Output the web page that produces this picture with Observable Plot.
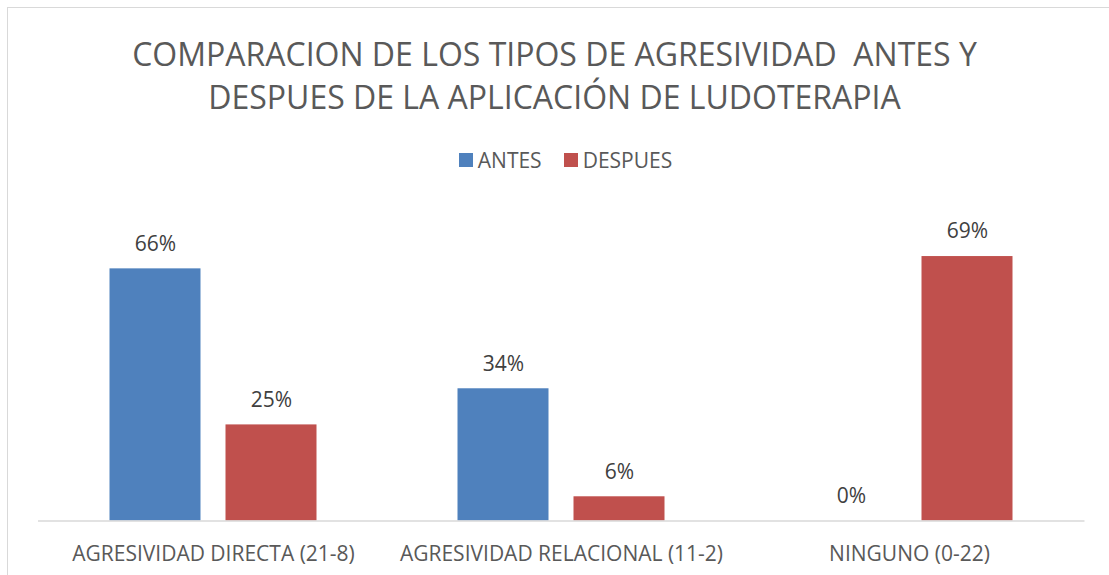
<!DOCTYPE html>
<html><head><meta charset="utf-8">
<script src="https://cdn.jsdelivr.net/npm/d3@7"></script>
<script src="https://cdn.jsdelivr.net/npm/@observablehq/plot@0.6"></script>
<style>
html,body{margin:0;padding:0;background:#fff;}
body{overflow:hidden;width:1109px;height:575px;position:relative;font-family:"Open Sans",sans-serif;}
#frame{position:absolute;left:7px;top:7px;width:1200px;height:700px;border:1px solid #d9d9d9;}
#title{position:absolute;left:0;top:32px;width:1109px;text-align:center;color:#595959;font-size:32px;line-height:43px;}
#legend{position:absolute;left:11px;top:148px;width:1109px;display:flex;justify-content:center;align-items:center;color:#595959;font-size:21px;line-height:24px;}
#legend .sw{display:inline-block;width:14px;height:14px;margin-right:5px;}
#legend .item{display:flex;align-items:center;margin:0 11px;}
#chart{position:absolute;left:0;top:190px;}
</style>
</head><body>
<div id="frame"></div>
<div id="title">COMPARACION DE LOS TIPOS DE AGRESIVIDAD&nbsp; ANTES Y<br>DESPUES DE LA APLICACIÓN DE LUDOTERAPIA</div>
<div id="legend"></div>
<div id="chart"></div>
<script>
const categories = ["AGRESIVIDAD DIRECTA (21-8)", "AGRESIVIDAD RELACIONAL (11-2)", "NINGUNO (0-22)"];
const series = ["ANTES", "DESPUES"];
const antes = [65.6, 34.4, 0];
const despues = [25, 6.3, 68.8];
const colors = ["#4F81BD", "#C0504D"];

const rowsAntes = categories.map((c, i) => ({cat: c, series: "ANTES", value: antes[i]}));
const rowsDespues = categories.map((c, i) => ({cat: c, series: "DESPUES", value: despues[i]}));

const legend = document.getElementById("legend");
series.forEach((s, i) => {
  const it = document.createElement("span");
  it.className = "item";
  it.innerHTML = `<span class="sw" style="background:${colors[i]}"></span>${s}`;
  legend.appendChild(it);
});

const fmt = d => Math.round(d.value) + "%";

const chart = Plot.plot({
  width: 1109,
  height: 385,
  marginLeft: 38,
  marginRight: 24.5,
  marginTop: 23,
  marginBottom: 54.5,
  style: {fontFamily: "Open Sans, sans-serif", fontSize: "21px", color: "#595959", background: "transparent"},
  x: {domain: categories, padding: 0},
  y: {domain: [0, 80], axis: null},
  color: {domain: series, range: colors},
  marks: [
    Plot.barY(rowsAntes, {x: "cat", y: "value", fill: "series", insetLeft: 70.5, insetRight: 186.5}),
    Plot.barY(rowsDespues, {x: "cat", y: "value", fill: "series", insetLeft: 186.5, insetRight: 70.5}),
    Plot.ruleY([0], {stroke: "#d9d9d9", strokeWidth: 1.5}),
    Plot.text(rowsAntes, {x: "cat", y: "value", text: fmt, dx: -58, dy: -25, fill: "#404040", fontSize: 21}),
    Plot.text(rowsDespues, {x: "cat", y: "value", text: fmt, dx: 58, dy: -25, fill: "#404040", fontSize: 21}),
    Plot.axisX({tickSize: 0, tickPadding: 25, fontSize: 21, fill: "#595959", label: null})
  ]
});
document.getElementById("chart").appendChild(chart);
</script>
</body></html>
